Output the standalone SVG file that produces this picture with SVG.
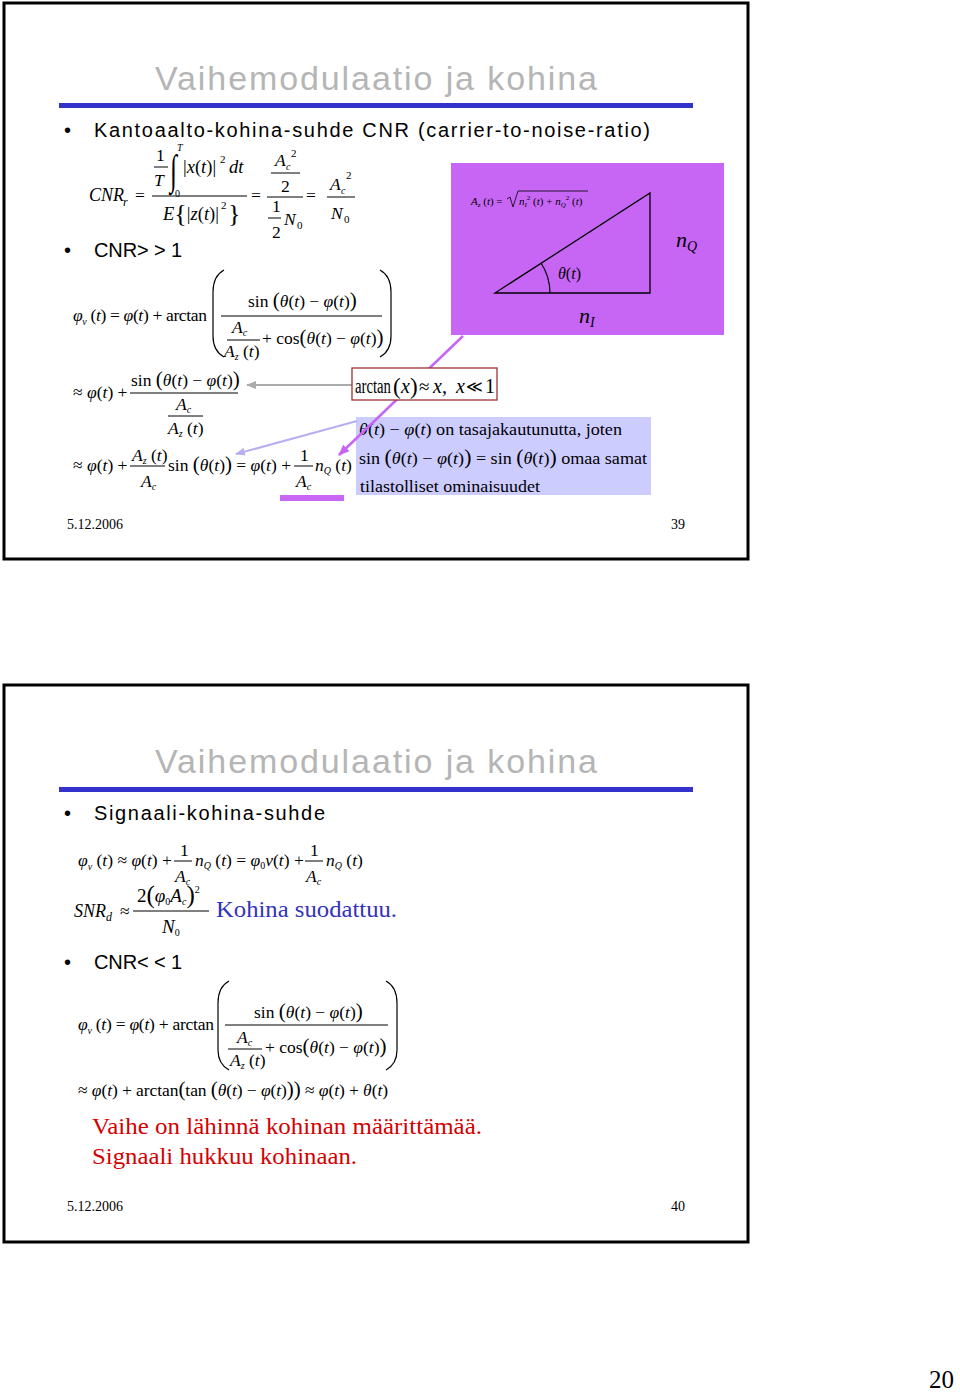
<svg xmlns="http://www.w3.org/2000/svg" width="960" height="1394" viewBox="0 0 960 1394">
<style>
.ttl{font-family:"Liberation Sans",Arial,sans-serif;font-size:34px;fill:#b5b5b5}
.bl{font-family:"Liberation Sans",Arial,sans-serif;font-size:20px;fill:#000}
.m{font-family:"Liberation Serif","Times New Roman",serif;font-size:17.5px;fill:#000}
.i{font-style:italic}
.sb{font-size:10px;font-style:italic}
.sn{font-size:10px}
.bp{font-size:21px}
.ft{font-family:"Liberation Serif","Times New Roman",serif;font-size:14px;fill:#000}
.frame{fill:#fff;stroke:#000;stroke-width:3}
.bar{stroke:#000;stroke-width:1}
.par{fill:none;stroke:#000;stroke-width:1.2}
</style>
<defs>
<marker id="ag" viewBox="0 0 10 10" refX="9" refY="5" markerWidth="5" markerHeight="5" orient="auto"><path d="M0,1 L10,5 L0,9 z" fill="#aaaaaa"/></marker>
<marker id="al" viewBox="0 0 10 10" refX="9" refY="5" markerWidth="5" markerHeight="5" orient="auto"><path d="M0,1 L10,5 L0,9 z" fill="#b8aef0"/></marker>
<marker id="am" viewBox="0 0 10 10" refX="9" refY="5" markerWidth="4.5" markerHeight="4.5" orient="auto"><path d="M0,1 L10,5 L0,9 z" fill="#c766f5"/></marker>
</defs>
<rect width="960" height="1394" fill="#fff"/>

<!-- Slide 1 -->
<g id="slide1">
<rect class="frame" x="4" y="3" width="744" height="556"/>
<text class="ttl" x="155" y="90" textLength="442" lengthAdjust="spacing">Vaihemodulaatio ja kohina</text>
<rect x="59" y="103" width="634" height="5" fill="#3333cc"/>
<text class="bl" x="64" y="137">•</text>
<text class="bl" x="94" y="137" textLength="556" lengthAdjust="spacing">Kantoaalto-kohina-suhde CNR (carrier-to-noise-ratio)</text>
<text class="bl" x="64" y="257">•</text>
<text class="bl" x="94" y="257" textLength="88" lengthAdjust="spacing">CNR&gt; &gt; 1</text>
</g>

<g id="cnr-eq">
<text class="m i" x="89" y="201" style="font-size:18px">CNR</text>
<text class="m i" x="123" y="206" style="font-size:12px">r</text>
<text class="m" x="135" y="201">=</text>
<text class="m" x="156" y="161">1</text>
<line class="bar" x1="154" y1="167" x2="168" y2="167"/>
<text class="m i" x="154" y="186">T</text>
<text class="m" transform="translate(170,184) scale(0.6,1)" x="0" y="0" style="font-size:42px">∫</text>
<text class="m i" x="177" y="151" style="font-size:10px">T</text>
<text class="m" x="175" y="197" style="font-size:10px">0</text>
<text class="m" x="183" y="173" style="font-size:18.5px">|<tspan class="i">x</tspan>(<tspan class="i">t</tspan>)|</text>
<text class="m" x="220" y="163" style="font-size:11px">2</text>
<text class="m i" x="229" y="173" style="font-size:18.5px">dt</text>
<line class="bar" x1="152" y1="196" x2="247" y2="196"/>
<text class="m" x="163" y="220" style="font-size:18.5px"><tspan class="i">E</tspan><tspan style="font-size:26px" dy="2">{</tspan><tspan dy="-2">|</tspan><tspan class="i">z</tspan>(<tspan class="i">t</tspan>)|</text>
<text class="m" x="221" y="209" style="font-size:11px">2</text>
<text class="m" x="228" y="222" style="font-size:26px">}</text>
<text class="m" x="251" y="201">=</text>
<text class="m i" x="275" y="166">A</text>
<text class="m i" x="286" y="170" style="font-size:10px">c</text>
<text class="m" x="291" y="157" style="font-size:11px">2</text>
<line class="bar" x1="271" y1="173" x2="300" y2="173"/>
<text class="m" x="281" y="192">2</text>
<line class="bar" x1="267" y1="197" x2="303" y2="197"/>
<text class="m" x="272" y="212">1</text>
<line class="bar" x1="268" y1="218" x2="281" y2="218"/>
<text class="m" x="272" y="238">2</text>
<text class="m i" x="284" y="225">N</text>
<text class="m" x="297" y="229" style="font-size:11px">0</text>
<text class="m" x="306" y="201">=</text>
<text class="m i" x="330" y="190">A</text>
<text class="m i" x="341" y="194" style="font-size:10px">c</text>
<text class="m" x="346" y="179" style="font-size:11px">2</text>
<line class="bar" x1="327" y1="197" x2="355" y2="197"/>
<text class="m i" x="331" y="219">N</text>
<text class="m" x="344" y="223" style="font-size:11px">0</text>
</g>

<g id="phi-eq1">
<text class="m" x="73" y="321" textLength="134" lengthAdjust="spacing"><tspan class="i">φ</tspan><tspan class="sb" dy="4">v</tspan><tspan dy="-4"> (</tspan><tspan class="i">t</tspan>) = <tspan class="i">φ</tspan>(<tspan class="i">t</tspan>) + arctan</text>
<path class="par" d="M224,270 Q213,276 213,292 L213,336 Q213,351 224,357"/>
<path class="par" d="M380,270 Q391,276 391,292 L391,336 Q391,351 380,357"/>
<text class="m" x="248" y="307">sin <tspan class="bp">(</tspan><tspan class="i">θ</tspan>(<tspan class="i">t</tspan>) − <tspan class="i">φ</tspan>(<tspan class="i">t</tspan>)<tspan class="bp">)</tspan></text>
<line class="bar" x1="221" y1="316" x2="382" y2="316"/>
<text class="m i" x="232" y="333">A<tspan class="sb" dy="3">c</tspan></text>
<line class="bar" x1="227" y1="340" x2="260" y2="340"/>
<text class="m" x="224" y="357"><tspan class="i">A</tspan><tspan class="sb" dy="3">z</tspan><tspan dy="-3"> (</tspan><tspan class="i">t</tspan>)</text>
<text class="m" x="262" y="344">+ cos<tspan class="bp">(</tspan><tspan class="i">θ</tspan>(<tspan class="i">t</tspan>) − <tspan class="i">φ</tspan>(<tspan class="i">t</tspan>)<tspan class="bp">)</tspan></text>
</g>

<g id="phi-eq2">
<text class="m" x="73" y="398">≈ <tspan class="i">φ</tspan>(<tspan class="i">t</tspan>) +</text>
<text class="m" x="131" y="386">sin <tspan class="bp">(</tspan><tspan class="i">θ</tspan>(<tspan class="i">t</tspan>) − <tspan class="i">φ</tspan>(<tspan class="i">t</tspan>)<tspan class="bp">)</tspan></text>
<line class="bar" x1="130" y1="393" x2="238" y2="393"/>
<text class="m i" x="176" y="410">A<tspan class="sb" dy="3">c</tspan></text>
<line class="bar" x1="168" y1="416" x2="203" y2="416"/>
<text class="m" x="168" y="434"><tspan class="i">A</tspan><tspan class="sb" dy="3">z</tspan><tspan dy="-3"> (</tspan><tspan class="i">t</tspan>)</text>
</g>

<g id="phi-eq3">
<text class="m" x="73" y="471">≈ <tspan class="i">φ</tspan>(<tspan class="i">t</tspan>) +</text>
<text class="m" x="132" y="461"><tspan class="i">A</tspan><tspan class="sb" dy="3">z</tspan><tspan dy="-3"> (</tspan><tspan class="i">t</tspan>)</text>
<line class="bar" x1="130" y1="466" x2="165" y2="466"/>
<text class="m i" x="141" y="487">A<tspan class="sb" dy="3">c</tspan></text>
<text class="m" x="168" y="471">sin <tspan class="bp">(</tspan><tspan class="i">θ</tspan>(<tspan class="i">t</tspan>)<tspan class="bp">)</tspan> = <tspan class="i">φ</tspan>(<tspan class="i">t</tspan>) +</text>
<text class="m" x="300" y="461">1</text>
<line class="bar" x1="294" y1="466" x2="313" y2="466"/>
<text class="m i" x="296" y="487">A<tspan class="sb" dy="3">c</tspan></text>
<text class="m" x="315" y="471"><tspan class="i">n</tspan><tspan class="sb" dy="3">Q</tspan><tspan dy="-3"> (</tspan><tspan class="i">t</tspan>)</text>
</g>

<g id="triangle-box">
<rect x="451" y="163" width="273" height="172" fill="#c766f5"/>
<text class="m" x="471" y="205" style="font-size:11px"><tspan class="i">A</tspan><tspan class="sb" style="font-size:7px" dy="2">z</tspan><tspan dy="-2"> (</tspan><tspan class="i">t</tspan>) =</text>
<path d="M507,199 L510,197 L513,207 L518,191 L588,191" fill="none" stroke="#000" stroke-width="0.8"/>
<text class="m" x="519" y="205" style="font-size:11px"><tspan class="i">n</tspan><tspan class="i" style="font-size:7px" dy="2">I</tspan><tspan style="font-size:7px" dy="-7">2</tspan><tspan dy="5"> (</tspan><tspan class="i">t</tspan>) + <tspan class="i">n</tspan><tspan class="i" style="font-size:7px" dy="2">Q</tspan><tspan style="font-size:7px" dy="-7">2</tspan><tspan dy="5"> (</tspan><tspan class="i">t</tspan>)</text>
<polygon points="495,293 650,293 650,193" fill="none" stroke="#000" stroke-width="1.3"/>
<path d="M550,293 A55,55 0 0 0 541,263" fill="none" stroke="#000" stroke-width="1.2"/>
<text class="m" x="558" y="279" style="font-size:16px"><tspan class="i">θ</tspan>(<tspan class="i">t</tspan>)</text>
<text class="m i" x="676" y="247" style="font-size:22px">n<tspan style="font-size:14px" dy="4">Q</tspan></text>
<text class="m i" x="579" y="323" style="font-size:22px">n<tspan style="font-size:14px" dy="4">I</tspan></text>
</g>

<g id="note-box">
<rect x="356" y="417" width="295" height="78" fill="#ccccff"/>
<text class="m" x="359" y="435" textLength="263" lengthAdjust="spacingAndGlyphs"><tspan class="i">θ</tspan>(<tspan class="i">t</tspan>) − <tspan class="i">φ</tspan>(<tspan class="i">t</tspan>) on tasajakautunutta, joten</text>
<text class="m" x="359" y="464" textLength="288" lengthAdjust="spacingAndGlyphs">sin <tspan class="bp">(</tspan><tspan class="i">θ</tspan>(<tspan class="i">t</tspan>) − <tspan class="i">φ</tspan>(<tspan class="i">t</tspan>)<tspan class="bp">)</tspan> = sin <tspan class="bp">(</tspan><tspan class="i">θ</tspan>(<tspan class="i">t</tspan>)<tspan class="bp">)</tspan> omaa samat</text>
<text class="m" x="360" y="492" textLength="180" lengthAdjust="spacingAndGlyphs">tilastolliset ominaisuudet</text>
</g>

<g id="connectors">
<line x1="352" y1="385" x2="247" y2="385" stroke="#aaaaaa" stroke-width="2" marker-end="url(#ag)"/>
<line x1="357" y1="421" x2="236" y2="454" stroke="#b8aef0" stroke-width="2" marker-end="url(#al)"/>
<line x1="463" y1="336" x2="339" y2="455" stroke="#c766f5" stroke-width="2.5" marker-end="url(#am)"/>
</g>

<g id="arctan-box">
<rect x="352" y="368" width="145" height="32" fill="#fff" stroke="#993333" stroke-width="1.3"/>
<text class="m" x="355" y="393" style="font-size:20px" textLength="36" lengthAdjust="spacingAndGlyphs">arctan</text>
<text class="m" x="393" y="394" style="font-size:23px">(</text>
<text class="m i" x="401" y="393" style="font-size:20px">x</text>
<text class="m" x="410" y="394" style="font-size:23px">)</text>
<text class="m" x="419" y="393" style="font-size:19px">≈</text>
<text class="m i" x="433" y="393" style="font-size:20px">x,</text>
<text class="m i" x="456" y="393" style="font-size:20px">x</text>
<text class="m" x="466" y="392" style="font-size:16px">≪</text>
<text class="m" x="485" y="393" style="font-size:20px">1</text>
</g>

<rect id="underline" x="280" y="495" width="64" height="6" fill="#c766f5"/>

<g id="footer1">
<text class="ft" x="67" y="529">5.12.2006</text>
<text class="ft" x="671" y="529">39</text>
</g>

<!-- Slide 2 -->
<g id="slide2">
<rect class="frame" x="4" y="685" width="744" height="557"/>
<text class="ttl" x="155" y="773" textLength="442" lengthAdjust="spacing">Vaihemodulaatio ja kohina</text>
<rect x="59" y="787" width="634" height="5" fill="#3333cc"/>
<text class="bl" x="64" y="820">•</text>
<text class="bl" x="94" y="820" textLength="231" lengthAdjust="spacing">Signaali-kohina-suhde</text>
<text class="bl" x="64" y="969">•</text>
<text class="bl" x="94" y="969" textLength="88" lengthAdjust="spacing">CNR&lt; &lt; 1</text>
</g>

<g id="snr-eq">
<text class="m" x="78" y="866"><tspan class="i">φ</tspan><tspan class="sb" dy="4">v</tspan><tspan dy="-4"> (</tspan><tspan class="i">t</tspan>) ≈ <tspan class="i">φ</tspan>(<tspan class="i">t</tspan>) +</text>
<text class="m" x="180" y="856">1</text>
<line class="bar" x1="174" y1="861" x2="192" y2="861"/>
<text class="m i" x="175" y="882">A<tspan class="sb" dy="3">c</tspan></text>
<text class="m" x="195" y="866"><tspan class="i">n</tspan><tspan class="sb" dy="3">Q</tspan><tspan dy="-3"> (</tspan><tspan class="i">t</tspan>) = <tspan class="i">φ</tspan><tspan class="sn" dy="3">0</tspan><tspan class="i" dy="-3">v</tspan>(<tspan class="i">t</tspan>) +</text>
<text class="m" x="310" y="856">1</text>
<line class="bar" x1="305" y1="861" x2="323" y2="861"/>
<text class="m i" x="306" y="882">A<tspan class="sb" dy="3">c</tspan></text>
<text class="m" x="326" y="866"><tspan class="i">n</tspan><tspan class="sb" dy="3">Q</tspan><tspan dy="-3"> (</tspan><tspan class="i">t</tspan>)</text>

<text class="m i" x="74" y="917" style="font-size:18px">SNR<tspan style="font-size:12px" dy="4">d</tspan></text>
<text class="m" x="120" y="917">≈</text>
<text class="m" x="137" y="902" style="font-size:19px">2<tspan style="font-size:25px" dy="1">(</tspan><tspan class="i" dy="-1">φ</tspan><tspan class="sn" dy="3">0</tspan><tspan class="i" dy="-3">A</tspan><tspan class="sb" dy="3">c</tspan><tspan style="font-size:25px" dy="-2">)</tspan><tspan class="sn" dy="-10">2</tspan></text>
<line class="bar" x1="133" y1="911" x2="209" y2="911"/>
<text class="m i" x="162" y="933" style="font-size:19px">N<tspan class="sn" dy="3" style="font-style:normal">0</tspan></text>
<text class="m" x="216" y="917" style="font-size:24px;fill:#3333bb" textLength="181" lengthAdjust="spacingAndGlyphs">Kohina suodattuu.</text>
</g>

<g id="phi-eq4">
<text class="m" x="78" y="1030" textLength="136" lengthAdjust="spacing"><tspan class="i">φ</tspan><tspan class="sb" dy="4">v</tspan><tspan dy="-4"> (</tspan><tspan class="i">t</tspan>) = <tspan class="i">φ</tspan>(<tspan class="i">t</tspan>) + arctan</text>
<path class="par" d="M229,981 Q218,987 218,1003 L218,1050 Q218,1064 229,1070"/>
<path class="par" d="M386,981 Q397,987 397,1003 L397,1050 Q397,1064 386,1070"/>
<text class="m" x="254" y="1018">sin <tspan class="bp">(</tspan><tspan class="i">θ</tspan>(<tspan class="i">t</tspan>) − <tspan class="i">φ</tspan>(<tspan class="i">t</tspan>)<tspan class="bp">)</tspan></text>
<line class="bar" x1="225" y1="1025" x2="388" y2="1025"/>
<text class="m i" x="237" y="1043">A<tspan class="sb" dy="3">c</tspan></text>
<line class="bar" x1="228" y1="1049" x2="262" y2="1049"/>
<text class="m" x="230" y="1066"><tspan class="i">A</tspan><tspan class="sb" dy="3">z</tspan><tspan dy="-3"> (</tspan><tspan class="i">t</tspan>)</text>
<text class="m" x="265" y="1053">+ cos<tspan class="bp">(</tspan><tspan class="i">θ</tspan>(<tspan class="i">t</tspan>) − <tspan class="i">φ</tspan>(<tspan class="i">t</tspan>)<tspan class="bp">)</tspan></text>
<text class="m" x="78" y="1096" textLength="310" lengthAdjust="spacing">≈ <tspan class="i">φ</tspan>(<tspan class="i">t</tspan>) + arctan<tspan class="bp">(</tspan>tan <tspan class="bp">(</tspan><tspan class="i">θ</tspan>(<tspan class="i">t</tspan>) − <tspan class="i">φ</tspan>(<tspan class="i">t</tspan>)<tspan class="bp">))</tspan> ≈ <tspan class="i">φ</tspan>(<tspan class="i">t</tspan>) + <tspan class="i">θ</tspan>(<tspan class="i">t</tspan>)</text>
</g>

<g id="red-note">
<text class="m" x="92" y="1134" style="font-size:24px;fill:#d40000" textLength="390" lengthAdjust="spacingAndGlyphs">Vaihe on lähinnä kohinan määrittämää.</text>
<text class="m" x="92" y="1164" style="font-size:24px;fill:#d40000" textLength="265" lengthAdjust="spacingAndGlyphs">Signaali hukkuu kohinaan.</text>
</g>

<g id="footer2">
<text class="ft" x="67" y="1211">5.12.2006</text>
<text class="ft" x="671" y="1211">40</text>
</g>

<text id="pagenum" x="929" y="1388" style="font-family:'Liberation Serif',serif;font-size:25px;fill:#000">20</text>
</svg>
